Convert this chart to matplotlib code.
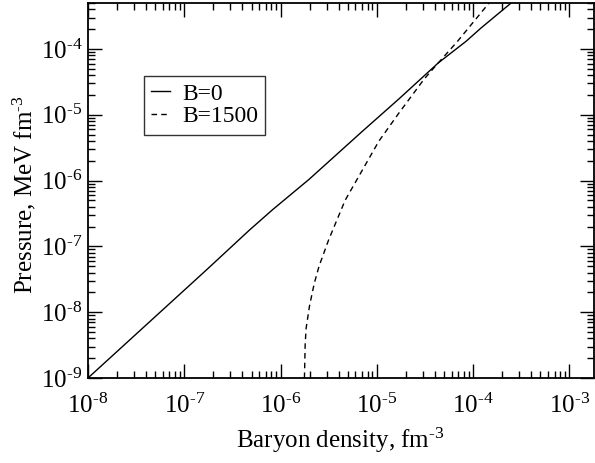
import numpy as np
import matplotlib
matplotlib.use("Agg")
import matplotlib.pyplot as plt
from matplotlib.ticker import LogLocator, NullFormatter, FuncFormatter

plt.rcParams['font.family'] = ['Liberation Serif', 'DejaVu Serif']
plt.rcParams['mathtext.fontset'] = 'custom'
plt.rcParams['mathtext.rm'] = 'Liberation Serif'
plt.rcParams['mathtext.default'] = 'regular'

# B = 0 (solid)
nb_B0 = [1.0e-8, 1.69e-7, 4.75e-7, 8.2e-7, 1.62e-6, 1.97e-6, 7.03e-6,
         1.70e-5, 4.33e-5, 8.45e-5, 1.21e-4, 2.48e-4]
p_B0 = [1.0e-9, 4.36e-8, 1.77e-7, 3.58e-7, 8.2e-7, 1.04e-6, 5.57e-6,
        1.75e-5, 6.12e-5, 1.31e-4, 2.09e-4, 5.0e-4]

# B = 1500 (dashed)
nb_B1500 = [1.77e-6, 1.80e-6, 1.84e-6, 2.00e-6, 2.24e-6, 2.51e-6, 3.16e-6,
            4.68e-6, 7.08e-6, 1.05e-5, 1.70e-5, 3.09e-5, 4.17e-5, 6.92e-5,
            1.41e-4, 1.48e-4]
p_B1500 = [1.0e-9, 3.16e-9, 5.62e-9, 1.26e-8, 2.75e-8, 5.01e-8, 1.26e-7,
           5.01e-7, 1.45e-6, 3.98e-6, 1.07e-5, 3.47e-5, 5.75e-5, 1.32e-4,
           4.68e-4, 5.01e-4]

HY = '\u2010'  # plain hyphen, like the original exponents


def pow10(v, pos):
    e = int(round(np.log10(v)))
    s = str(e).replace('-', HY)
    return r'$10^{%s}$' % s


fig = plt.figure(figsize=(5.95, 4.63), dpi=100)
ax = fig.add_axes([88/595, 1 - 378/463, 506/595, 375/463])

ax.plot(nb_B0, p_B0, color='black', lw=1.0, label='B=0')
ax.plot(nb_B1500, p_B1500, color='black', lw=1.0, dashes=(4, 3), label='B=1500')

ax.set_xscale('log')
ax.set_yscale('log')
ax.set_xlim(1e-8, 1.8e-3)
ax.set_ylim(1e-9, 5e-4)

for a in (ax.xaxis, ax.yaxis):
    a.set_major_locator(LogLocator(base=10, numticks=20))
    a.set_minor_locator(LogLocator(base=10, subs=np.arange(2, 10), numticks=20))
    a.set_major_formatter(FuncFormatter(pow10))
    a.set_minor_formatter(NullFormatter())

ax.tick_params(which='both', direction='in', top=True, right=True, width=1.0)
ax.tick_params(which='major', length=10, labelsize=18)
ax.tick_params(which='minor', length=5)
ax.tick_params(axis='x', which='major', pad=11)
ax.tick_params(axis='y', which='major', pad=4)
for s in ax.spines.values():
    s.set_linewidth(1.3)

ax.set_xlabel(r'Baryon density, fm$^{%s3}$' % HY, fontsize=18)
ax.set_ylabel(r'Pressure, MeV fm$^{%s3}$' % HY, fontsize=18)
ax.xaxis.set_label_coords(0.498, -0.128)
ax.yaxis.set_label_coords(-0.099, 0.488)

leg = ax.legend(loc='upper left', bbox_to_anchor=(0.111, 0.805), fontsize=17,
                frameon=True, fancybox=False, handlelength=0.8, handletextpad=0.5,
                borderpad=0.3, labelspacing=0.05, borderaxespad=0)
leg.get_frame().set_edgecolor('black')
leg.get_frame().set_linewidth(1.0)

fig.savefig('out.png', dpi=100)
